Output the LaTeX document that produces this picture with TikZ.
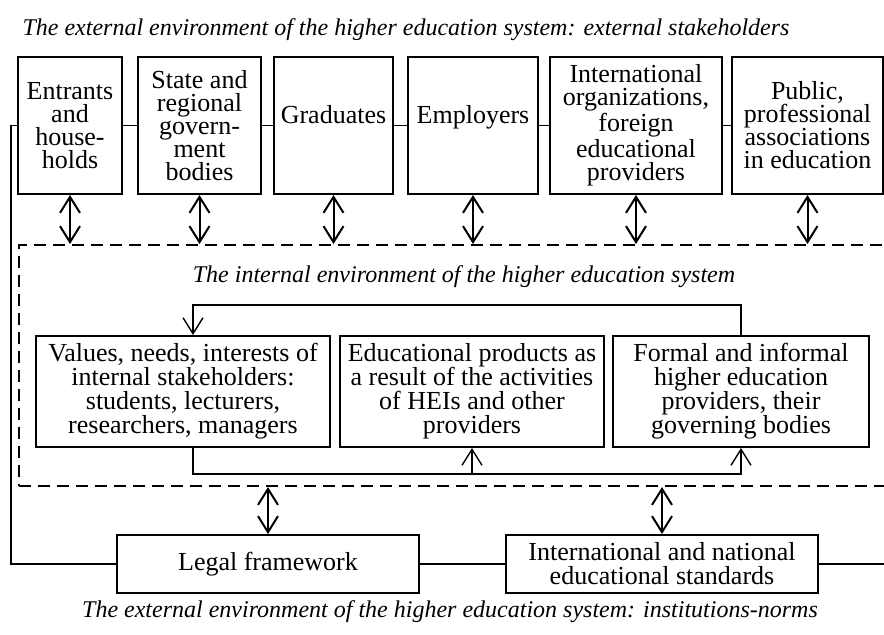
\documentclass[tikz,border=0pt]{standalone}
\usepackage{fontspec}
\setmainfont{Liberation Serif}
\usepackage{tikz}
\usetikzlibrary{arrows.meta, positioning}

\begin{document}
\begin{tikzpicture}[x=0.5pt, y=-0.5pt,
    >={Straight Barb[length=8pt, width=10pt]},
    stake/.style={rectangle, draw, line width=1pt, align=center, minimum height=68.5pt, font=\fontsize{13}{11.5}\selectfont},
    inbox/.style={rectangle, draw, line width=1pt, align=center, minimum height=55.5pt, font=\fontsize{13}{12}\selectfont},
    normbox/.style={rectangle, draw, line width=1pt, align=center, minimum height=29pt, font=\fontsize{13}{12}\selectfont},
    caption/.style={font=\fontsize{12}{12}\selectfont\itshape},
    link/.style={line width=0.7pt},
    duplex/.style={<->, line width=1pt},
    frame/.style={draw, dash pattern=on 6pt off 3.5pt, line width=1pt}]
    \useasboundingbox (0,0) rectangle (884,634);

    % External stakeholders
    \node[caption] (exttitle) at (406,30) {The external environment of the higher education system: external stakeholders};
    \node[stake, minimum width=52pt] (entr) at (70,125.5) {Entrants\\and\\house-\\holds};
    \node[stake, minimum width=61.5pt] (state) at (199.5,125.5) {State and\\regional\\govern-\\ment\\bodies};
    \node[stake, minimum width=59.5pt] (grad) at (333.5,125.5) {Graduates\\\mbox{}};
    \node[stake, minimum width=65pt] (empl) at (473,125.5) {Employers\\\mbox{}};
    \node[stake, minimum width=86pt] (intl) at (636,125.5) {International\\organizations,\\foreign\\educational\\providers};
    \node[stake, minimum width=75.5pt] (publ) at (807.5,125.5) {Public,\\professional\\associations\\in education};

    % Internal environment
    \node[frame, minimum width=440.5pt, minimum height=120.5pt] (intenv) at (459.5,365.5) {};
    \node[caption] (inttitle) at (464,277) {The internal environment of the higher education system};
    \node[inbox, minimum width=147pt] (vals) at (183,391.5) {Values, needs, interests of\\internal stakeholders:\\students, lecturers,\\researchers, managers};
    \node[inbox, minimum width=132pt] (prod) at (472,391.5) {Educational products as\\a result of the activities\\of HEIs and other\\providers};
    \node[inbox, minimum width=128pt] (fmt) at (741,391.5) {Formal and informal\\higher education\\providers, their\\governing bodies};

    % Institutions-norms
    \node[normbox, minimum width=151pt] (legal) at (268,564) {Legal framework};
    \node[normbox, minimum width=156pt] (stds) at (662,564) {International and national\\educational standards};
    \node[caption] (normtitle) at (450,612) {The external environment of the higher education system: institutions-norms};
    \coordinate (rgtend) at (884,564);

    % Draw connections
    \foreach \a/\b in {entr/state, state/grad, grad/empl, empl/intl, intl/publ}
        \draw[link] (\a) -- (\b);
    \foreach \n in {entr, state, grad, empl, intl, publ}
        \draw[duplex] (\n.south) -- (\n.south |- intenv.north);
    \draw[link] (entr.west) -- ++(-6,0) |- (legal.west);
    \draw[link] (legal) -- (stds);
    \draw[link] (stds) -- (rgtend);
    \draw[duplex] (legal.north) -- (legal.north |- intenv.south);
    \draw[duplex] (stds.north) -- (stds.north |- intenv.south);

    \draw[link, ->] (fmt.north) -- ++(0,-30) -| ([xshift=5pt]vals.north);
    \draw[link, ->] ([xshift=5pt]vals.south) -- ++(0,26) -| (fmt.south);
    \draw[link, <-] (prod.south) -- ++(0,26);
\end{tikzpicture}
\end{document}
